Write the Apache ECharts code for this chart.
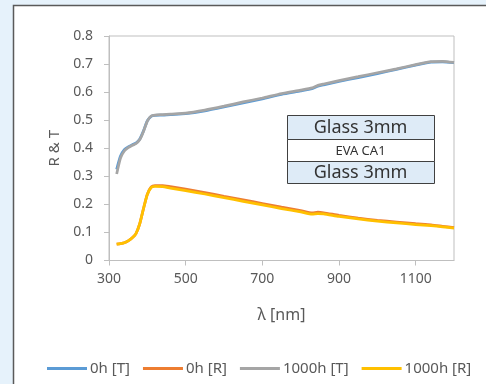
<!DOCTYPE html>
<html>
<head>
<meta charset="utf-8">
<script src="https://cdn.jsdelivr.net/npm/echarts@6/dist/echarts.min.js"></script>
<style>
html,body{margin:0;padding:0;background:#e6f2fb;}
#chart{width:486px;height:384px;}
</style>
</head>
<body>
<div id="chart"></div>
<script>
const wavelengths = [320,330,340,350,360,370,380,390,400,410,420,440,460,500,550,600,650,700,750,800,830,845,860,900,950,1000,1050,1100,1140,1170,1200];
const t0h    = [0.325,0.372,0.395,0.405,0.412,0.418,0.432,0.462,0.498,0.514,0.517,0.518,0.520,0.523,0.533,0.547,0.562,0.576,0.592,0.604,0.612,0.621,0.626,0.638,0.652,0.666,0.681,0.696,0.707,0.708,0.705];
const r0h    = [0.058,0.060,0.063,0.070,0.080,0.095,0.130,0.185,0.236,0.262,0.267,0.267,0.263,0.254,0.242,0.229,0.216,0.203,0.190,0.178,0.170,0.172,0.170,0.161,0.151,0.143,0.137,0.131,0.127,0.122,0.117];
const t1000h = [0.308,0.365,0.390,0.402,0.410,0.416,0.430,0.460,0.497,0.515,0.518,0.520,0.522,0.525,0.536,0.550,0.565,0.579,0.595,0.607,0.615,0.624,0.629,0.641,0.655,0.669,0.683,0.698,0.709,0.710,0.706];
const r1000h = [0.058,0.060,0.063,0.070,0.080,0.095,0.130,0.185,0.235,0.260,0.264,0.263,0.258,0.249,0.237,0.224,0.211,0.198,0.185,0.173,0.165,0.167,0.166,0.157,0.148,0.140,0.134,0.128,0.124,0.120,0.115];
const seriesNames = ['0h [T]','0h [R]','1000h [T]','1000h [R]'];
const seriesColors = ['#5b9bd5','#ed7d31','#a5a5a5','#ffc000'];
const xTickValues = [300,500,700,900,1100];
const layerLabels = ['Glass 3mm','EVA CA1','Glass 3mm'];

const font = 'Noto Sans, sans-serif';
const allValues = [t0h, r0h, t1000h, r1000h];
const series = allValues.map((vals, i) => ({
  name: seriesNames[i],
  type: 'line',
  data: wavelengths.map((w, j) => [w, vals[j]]),
  symbol: 'none',
  smooth: 0.2,
  lineStyle: {width: 2.75, color: seriesColors[i]},
  itemStyle: {color: seriesColors[i]},
  z: 2 + i
}));

const chart = echarts.init(document.getElementById('chart'));
const boxX = 287, boxW = 147;
const rows = [[115,24,'#deebf7',18],[139,22,'#ffffff',13],[161,22,'#deebf7',18]];
const graphics = [
  {type:'rect', z:-10, shape:{x:13.5,y:5.5,width:520,height:420}, style:{fill:'#ffffff',stroke:'#5a5a5a',lineWidth:1.5}, silent:true}
];
rows.forEach((r, i) => {
  graphics.push({type:'rect', z:50, shape:{x:boxX+0.5,y:r[0]+0.5,width:boxW,height:r[1]}, style:{fill:r[2],stroke:'#404040',lineWidth:1}});
  graphics.push({type:'text', z:51, x:boxX+boxW/2, y:r[0]+r[1]/2+1, style:{text:layerLabels[i], fill:'#333333', font: r[3]+'px '+font, align:'center', verticalAlign:'middle'}});
});

chart.setOption({
  backgroundColor: 'transparent',
  animation: false,
  textStyle: {fontFamily: font},
  grid: {left:109, top:36, right:32, bottom:123.5, show:true, borderColor:'#bfbfbf', borderWidth:1, backgroundColor:'transparent'},
  legend: {
    left: 42, top: 356, itemWidth: 40, itemHeight: 3, itemGap: 13, icon: 'rect',
    textStyle: {color:'#595959', fontSize:15, fontFamily:font, padding:[0,0,0,-2]},
    data: seriesNames
  },
  xAxis: {
    type:'value', min:300, max:1200,
    name:'λ [nm]', nameLocation:'middle', nameGap:47,
    nameTextStyle:{color:'#595959', fontSize:16, fontFamily:font},
    axisLine:{show:true, lineStyle:{color:'#bfbfbf'}},
    axisTick:{show:true, length:5, lineStyle:{color:'#bfbfbf'}, customValues:xTickValues},
    axisLabel:{color:'#595959', fontSize:14, fontFamily:font, margin:12, customValues:xTickValues, formatter: v => String(v)},
    splitLine:{show:false}
  },
  yAxis: {
    type:'value', min:0, max:0.8, interval:0.1,
    name:'R & T', nameLocation:'middle', nameGap:46,
    nameTextStyle:{color:'#595959', fontSize:15, fontFamily:font},
    axisLine:{show:true, lineStyle:{color:'#bfbfbf'}},
    axisTick:{show:true, length:5, lineStyle:{color:'#bfbfbf'}},
    axisLabel:{color:'#595959', fontSize:14, fontFamily:font, margin:16},
    splitLine:{show:false}
  },
  graphic: graphics,
  series: series
});
</script>
</body>
</html>
